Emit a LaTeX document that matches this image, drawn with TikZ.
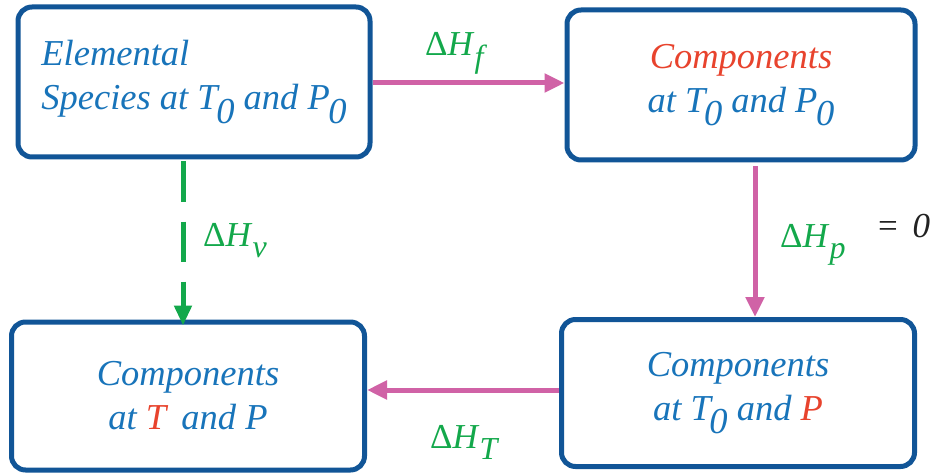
\documentclass[tikz,border=0pt]{standalone}
\usepackage{fontspec}
\setmainfont{Liberation Serif}
\usetikzlibrary{arrows.meta,calc}
\definecolor{boxblue}{HTML}{115597}
\definecolor{textblue}{HTML}{1874BA}
\definecolor{hotred}{HTML}{E8432D}
\definecolor{labgreen}{HTML}{13A84B}
\definecolor{arrpink}{HTML}{D062A6}
\definecolor{eqblack}{HTML}{222222}
\newcommand{\lowsub}[1]{\kern-0.04em\raisebox{-0.36em}{#1}}
\newcommand{\labsub}[1]{\raisebox{-0.34em}{\fontsize{32}{32}\selectfont\itshape #1}}
\begin{document}
\begin{tikzpicture}[x=1pt,y=-1pt,
  box/.style={draw=boxblue, line width=5pt, rounded corners=14pt, fill=white,
    font=\fontsize{36.5}{44}\selectfont\itshape, text=textblue, inner sep=0pt},
  pinkarrow/.style={draw=arrpink, line width=5pt, -{Triangle[length=20pt,width=18pt]}},
  greenarrow/.style={draw=labgreen, line width=5pt, dash pattern=on 40pt off 20pt, -{Triangle[length=20pt,width=17pt]}},
  lab/.style={text=labgreen, font=\fontsize{35}{35}\selectfont, inner sep=0pt, anchor=base west}]
\useasboundingbox (0,0) rectangle (933,473);

\node[box, minimum width=352pt, minimum height=150pt, align=left] (b1) at (194,82)
  {Elemental\\Species at T\lowsub{0} and P\lowsub{0}};
\node[box, minimum width=348pt, minimum height=150pt, align=center] (b2) at (741,85)
  {\textcolor{hotred}{Components}\\at T\lowsub{0} and P\lowsub{0}};
\node[box, minimum width=353pt, minimum height=148pt, align=center] (b3) at (188,396)
  {Components\\at \textcolor{hotred}{T}\, and P};
\node[box, minimum width=353pt, minimum height=147pt, align=center] (b4) at (738,393)
  {Components\\at T\lowsub{0} and \textcolor{hotred}{P}};

\coordinate (r1) at ($(b2.south)+(14,0)$);
\coordinate (r2) at (r1 |- b4.north);
\draw[pinkarrow, shorten <=4pt] (r1) -- (r2);

\coordinate (t1) at (b1.east |- 0,83);
\coordinate (t2) at (b2.west |- 0,83);
\draw[pinkarrow] (t1) -- (t2);

\coordinate (u1) at (b4.west |- 0,390);
\coordinate (u2) at (b3.east |- 0,390);
\draw[pinkarrow] (u1) -- (u2);

\coordinate (g1) at ($(b1.south)+(-11,2)$);
\coordinate (g2) at ($(g1 |- b3.north)+(0,6)$);
\draw[greenarrow] (g1) -- (g2);

\node[lab] (lf) at (425,56) {Δ\textit{H}\labsub{f}};
\node[lab] (lp) at (780,247) {Δ\textit{H}\labsub{p}};
\node[lab, text=eqblack] (eq) at (878,237) {=\, \textit{0}};
\node[lab] (lv) at (203,246) {Δ\textit{H}\labsub{v}};
\node[lab] (lt) at (430,448) {Δ\textit{H}\labsub{T}};
\end{tikzpicture}
\end{document}
